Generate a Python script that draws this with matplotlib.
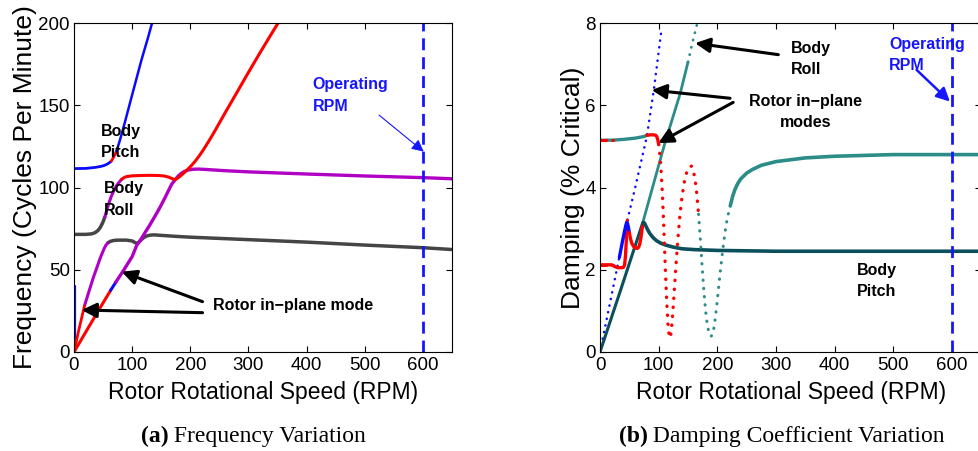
import matplotlib
matplotlib.use('Agg')
import matplotlib.pyplot as plt

plt.rcParams['font.family'] = ['Liberation Sans', 'DejaVu Sans']
plt.rcParams['axes.linewidth'] = 0.8

# ---------------- data: (a) frequency (cycles per minute) vs rotor RPM ----------------
pitch_blue1_x = [0, 20, 36, 46, 52, 57, 61, 64]
pitch_blue1_y = [111.5, 111.6, 112.2, 112.8, 113.4, 114.2, 115.1, 116.0]
pitch_red_x = [64, 66, 68, 70, 73]
pitch_red_y = [116.0, 117.1, 118.4, 119.8, 122.0]
pitch_blue2_x = [73, 77, 82, 87, 93, 99, 105, 116, 128, 135]
pitch_blue2_y = [122.0, 126.5, 132.5, 139.0, 147.0, 155.0, 163.0, 177.5, 192.0, 201.0]

roll_gray_x = [0, 20, 30, 36, 41, 45, 49, 53]
roll_gray_y = [71.5, 71.5, 71.8, 72.5, 73.8, 75.6, 78.3, 82.0]
roll_mag_x = [53, 56, 60, 64, 68, 72, 77, 82]
roll_mag_y = [82.0, 85.8, 90.5, 94.5, 97.8, 100.5, 103.0, 105.0]
roll_red_x = [82, 86, 90, 100, 115, 130, 145, 155, 162, 168, 173.5, 178, 184, 190, 196, 202, 208,
              214, 220, 226, 232, 240, 260, 280, 300, 320, 340, 351]
roll_red_y = [105.0, 106.0, 106.6, 107.1, 107.3, 107.4, 107.3, 107.0, 106.4, 105.5, 104.8, 105.6, 107.3,
              109.2, 111.2, 113.4, 115.8, 118.6, 121.6, 124.9, 128.3, 133.0, 145.5, 157.7, 170.0,
              182.0, 193.7, 200.0]

steep_red_x = [0, 8, 18]
steep_red_y = [0.0, 13.0, 28.0]
steep_mag_x = [18, 25, 33, 40, 45, 49, 52, 55, 58]
steep_mag_y = [28.0, 36.0, 45.0, 52.0, 57.0, 60.5, 63.0, 65.0, 66.3]
plateau_gray_x = [58, 62, 68, 75, 90, 100, 104, 108, 111, 115, 119, 124, 130, 138, 150, 175, 200, 300,
                  400, 500, 600, 650]
plateau_gray_y = [66.3, 67.2, 67.8, 68.0, 68.0, 67.5, 66.7, 66.0, 66.6, 68.0, 69.3, 70.4, 71.0, 71.2,
                  70.9, 70.3, 69.8, 68.3, 66.8, 65.0, 63.4, 62.3]

diag_red_x = [0, 20, 40, 63]
diag_red_y = [0.0, 12.0, 24.0, 37.5]
diag_blue_x = [63, 72]
diag_blue_y = [37.5, 42.5]
diag_mag_x = [72, 85, 100, 108, 112, 116, 122, 130, 140, 148, 156, 163, 168, 173.5, 178, 184, 190, 197,
              205, 215, 230, 260, 300, 400, 500, 600, 650]
diag_mag_y = [42.5, 49.5, 58.0, 65.0, 66.8, 69.0, 72.5, 77.0, 83.0, 88.0, 93.5, 98.5, 102.0, 104.5,
              106.5, 108.5, 109.8, 110.7, 111.1, 111.2, 110.9, 110.2, 109.5, 108.2, 107.0, 106.0, 105.3]

spike_x = [1, 1]
spike_y = [0.0, 40.0]

# ---------------- data: (b) damping (% critical) vs rotor RPM ----------------
inplane_blue_x = [0, 20, 40, 60, 80, 92, 104]
inplane_blue_y = [0.0, 1.4, 2.8, 4.0, 5.25, 6.4, 7.75]

roll_line_dark_x = [0, 35, 73]
roll_line_dark_y = [0.0, 1.5, 3.15]
roll_line_x = [73, 110, 137, 150]
roll_line_y = [3.15, 5.05, 6.3, 7.05]
roll_line_dot_x = [150, 158, 166]
roll_line_dot_y = [7.05, 7.55, 8.0]

bp_red_x = [0, 20, 25, 30, 38, 40, 42, 43.5, 45, 46.5]
bp_red_y = [2.12, 2.12, 2.08, 2.05, 2.05, 2.06, 2.12, 2.35, 2.75, 3.2]
bp_blue_x = [33, 36, 39, 42, 44, 45.5, 47, 48.5, 50]
bp_blue_y = [2.3, 2.52, 2.74, 2.95, 3.08, 3.15, 3.12, 3.03, 2.9]
bp_red2_x = [50, 52, 54, 57, 60, 64, 66, 68, 70, 71.5, 73]
bp_red2_y = [2.9, 2.76, 2.65, 2.57, 2.53, 2.52, 2.55, 2.64, 2.8, 2.96, 3.12]
bp_teal_x = [73, 74.5, 76, 78, 81, 85, 90, 96, 103, 112, 125, 140, 160, 200, 300, 650]
bp_teal_y = [3.12, 3.15, 3.13, 3.07, 2.98, 2.88, 2.79, 2.71, 2.65, 2.6, 2.55, 2.51, 2.49, 2.47, 2.45, 2.45]

up_teal_x = [0, 20, 40, 60, 75, 80]
up_teal_y = [5.15, 5.15, 5.17, 5.2, 5.24, 5.27]
up_red_x = [80, 86, 92, 95, 97, 98.5, 100]
up_red_y = [5.27, 5.28, 5.28, 5.27, 5.23, 5.16, 5.05]
up_reddot_x = [100, 102, 104, 106, 108, 110, 112, 114, 116, 118, 119.5, 121, 123, 126, 129, 132, 136,
               140, 144, 148, 152, 156, 159, 162, 165, 168]
up_reddot_y = [5.05, 4.8, 4.45, 3.95, 3.3, 2.55, 1.8, 1.15, 0.65, 0.38, 0.34, 0.45, 0.75, 1.35, 2.0,
               2.6, 3.3, 3.8, 4.15, 4.38, 4.5, 4.52, 4.42, 4.2, 3.85, 3.35]
up_tealdot_x = [168, 171, 174, 177, 180, 183, 186, 189, 192, 195, 198, 201, 205, 209, 213, 217, 222]
up_tealdot_y = [3.35, 2.75, 2.1, 1.5, 1.0, 0.65, 0.45, 0.38, 0.42, 0.65, 1.0, 1.4, 1.95, 2.45, 2.9,
                3.25, 3.55]
up_teal2_x = [222, 226, 230, 235, 240, 250, 260, 275, 300, 350, 400, 500, 650]
up_teal2_y = [3.55, 3.78, 3.95, 4.1, 4.21, 4.35, 4.44, 4.54, 4.63, 4.72, 4.76, 4.8, 4.8]

left_mix_x = [0, 22]
left_mix_hi_y = [5.15, 5.15]
left_mix_lo_y = [2.12, 2.12]

operating_rpm = 600
xticks = [0, 100, 200, 300, 400, 500, 600]
freq_yticks = [0, 50, 100, 150, 200]
damp_yticks = [0, 2, 4, 6, 8]

# ---------------- styling ----------------
BLUE = '#0a0aff'
RED = '#ff0000'
MAG = '#b000c4'
GRAY = '#454545'
TEAL = '#2b8c88'
DTEAL = '#0c4f5c'
OPBLUE = '#1515ff'
DOT = (0, (0.1, 2.6))

W, H = 979, 451
fig = plt.figure(figsize=(W / 100, H / 100), dpi=100)
axL = fig.add_axes([74 / W, 1 - 352 / H, 378 / W, 329 / H])
axR = fig.add_axes([600 / W, 1 - 352 / H, 381.3 / W, 329 / H])


def line(ax, x, y, c, lw, ls='-'):
    ax.plot(x, y, color=c, lw=lw, ls=ls, solid_capstyle='round', dash_capstyle='round',
            solid_joinstyle='round')


# panel (a)
line(axL, spike_x, spike_y, BLUE, 1.6)
line(axL, roll_gray_x, roll_gray_y, GRAY, 2.5)
line(axL, plateau_gray_x, plateau_gray_y, GRAY, 2.5)
line(axL, roll_mag_x, roll_mag_y, MAG, 2.2)
line(axL, steep_mag_x, steep_mag_y, MAG, 2.2)
line(axL, steep_red_x, steep_red_y, RED, 2.0)
line(axL, diag_red_x, diag_red_y, RED, 2.2)
line(axL, diag_blue_x, diag_blue_y, BLUE, 2.2)
line(axL, diag_mag_x, diag_mag_y, MAG, 2.4)
line(axL, roll_red_x, roll_red_y, RED, 2.2)
line(axL, pitch_blue1_x, pitch_blue1_y, BLUE, 2.0)
line(axL, pitch_red_x, pitch_red_y, RED, 2.0)
line(axL, pitch_blue2_x, pitch_blue2_y, BLUE, 1.8)
axL.axvline(operating_rpm, color=OPBLUE, lw=2.0, dashes=(4.3, 2.5))

# panel (b)
line(axR, inplane_blue_x, inplane_blue_y, BLUE, 1.8, DOT)
line(axR, roll_line_dark_x, roll_line_dark_y, DTEAL, 2.2)
line(axR, roll_line_x, roll_line_y, TEAL, 2.0)
line(axR, roll_line_dot_x, roll_line_dot_y, TEAL, 2.0, DOT)
line(axR, bp_red_x, bp_red_y, RED, 2.4)
line(axR, bp_blue_x, bp_blue_y, BLUE, 2.4)
line(axR, bp_red2_x, bp_red2_y, RED, 2.4)
line(axR, bp_teal_x, bp_teal_y, DTEAL, 2.6)
line(axR, up_teal_x, up_teal_y, TEAL, 2.4)
line(axR, up_red_x, up_red_y, RED, 2.4)
line(axR, up_reddot_x, up_reddot_y, RED, 2.4, DOT)
line(axR, up_tealdot_x, up_tealdot_y, TEAL, 2.2, DOT)
line(axR, up_teal2_x, up_teal2_y, TEAL, 2.6)
line(axR, left_mix_x, left_mix_hi_y, RED, 2.2, (0, (2, 2)))
line(axR, left_mix_x, left_mix_lo_y, RED, 2.2, (0, (2, 2)))
axR.axvline(operating_rpm, color=OPBLUE, lw=2.0, dashes=(4.3, 2.5))

for ax, yt, ylim, ylab, ylx in [(axL, freq_yticks, (0, 200), 'Frequency (Cycles Per Minute)', -0.112),
                                (axR, damp_yticks, (0, 8), 'Damping (% Critical)', -0.0525)]:
    ax.set_xlim(0, 650)
    ax.set_ylim(*ylim)
    ax.set_xticks(xticks)
    ax.set_yticks(yt)
    ax.tick_params(direction='in', top=True, right=True, length=4, width=0.8,
                   labelsize=13.5, colors='black')
    ax.tick_params(axis='x', pad=3.5)
    ax.tick_params(axis='y', pad=3)
    ax.set_xlabel('Rotor Rotational Speed (RPM)', fontsize=16.5)
    ax.xaxis.set_label_coords(0.5, -0.143)
    ax.xaxis.label.set_va('baseline')
    ax.set_ylabel(ylab, fontsize=19)
    ax.yaxis.set_label_coords(ylx, 0.5)
    ax.yaxis.label.set_va('baseline')
    ax.yaxis.label.set_ha('center')

TXT = dict(fontsize=11.5, fontweight='bold', va='baseline')


def arrow(ax, tail, head, color='k', lw=2.2, ms=22):
    ax.annotate('', xy=head, xytext=tail,
                arrowprops=dict(arrowstyle='-|>', color=color, lw=lw, mutation_scale=ms,
                                shrinkA=0, shrinkB=0))


# annotations (a)
axL.text(46.4, 131.3, 'Body', ha='left', **TXT)
axL.text(46.4, 118.4, 'Pitch', ha='left', **TXT)
axL.text(52.1, 96.5, 'Body', ha='left', **TXT)
axL.text(52.1, 83.3, 'Roll', ha='left', **TXT)
axL.text(239.4, 25.5, 'Rotor in\u2212plane mode', ha='left', **TXT)
axL.text(410, 159.7, 'Operating', ha='left', color=OPBLUE, **TXT)
axL.text(410, 146.5, 'RPM', ha='left', color=OPBLUE, **TXT)
arrow(axL, (221, 30.6), (82, 48.8))
arrow(axL, (221, 23.9), (13.2, 25.5))
arrow(axL, (524.6, 144), (601.4, 121.8), color=OPBLUE, lw=0.8, ms=18)

# annotations (b)
axR.text(325.6, 7.27, 'Body', ha='left', **TXT)
axR.text(325.6, 6.76, 'Roll', ha='left', **TXT)
axR.text(350, 5.99, 'Rotor in\u2212plane', ha='center', **TXT)
axR.text(350, 5.47, 'modes', ha='center', **TXT)
axR.text(437.5, 1.87, 'Body', ha='left', **TXT)
axR.text(437.5, 1.36, 'Pitch', ha='left', **TXT)
axR.text(493, 7.36, 'Operating', ha='left', color=OPBLUE, **TXT)
axR.text(493, 6.86, 'RPM', ha='left', color=OPBLUE, **TXT)
arrow(axR, (304, 7.23), (162, 7.51))
arrow(axR, (221.6, 6.17), (88, 6.37))
arrow(axR, (227, 6.07), (99.4, 5.08))
arrow(axR, (539.7, 6.86), (596.5, 6.09), color=OPBLUE, lw=1.8, ms=20)

# captions
renderer = fig.canvas.get_renderer()


def caption(xc_px, base_px, bold, rest):
    kw = dict(family=['Liberation Serif', 'DejaVu Serif'], fontsize=17, va='baseline')
    t1 = fig.text(0, 1 - base_px / H, bold, fontweight='bold', **kw)
    t2 = fig.text(0, 1 - base_px / H, rest, **kw)
    w1 = t1.get_window_extent(renderer).width
    w2 = t2.get_window_extent(renderer).width
    x0 = xc_px - (w1 + w2) / 2
    t1.set_x(x0 / W)
    t2.set_x((x0 + w1) / W)


caption(253.5, 442.3, '(a)', ' Frequency Variation')
caption(781.7, 442.3, '(b)', ' Damping Coefficient Variation')

fig.savefig('out.png', dpi=100)
